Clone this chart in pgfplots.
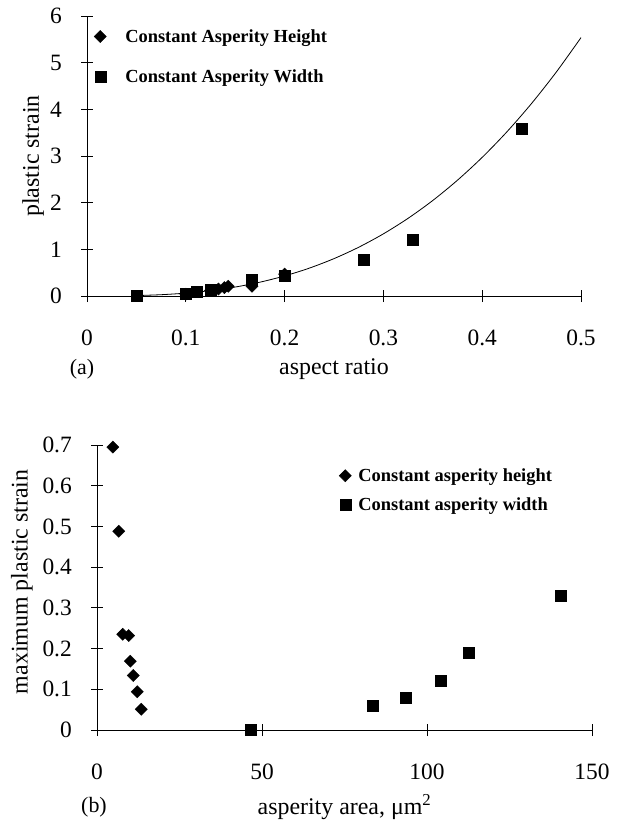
\documentclass[border=0pt]{standalone}
\usepackage{fontspec}
\setmainfont{Liberation Serif}
\usepackage{pgfplots}
\pgfplotsset{compat=1.18}
\pgfplotsset{
  common/.style={
    scale only axis,
    axis x line=bottom, axis y line=left,
    axis line style={-, line width=1bp, black},
    tick align=center,
    major tick length=12bp,
    every tick/.style={line width=0.9bp, black},
    clip=false,
    /pgf/number format/assume math mode=true,
    tick label style={font=\fontsize{23.5}{27}\selectfont},
    label style={font=\fontsize{24}{28}\selectfont},
    xticklabel style={anchor=center, inner sep=0pt, yshift=-36bp},
    yticklabel style={anchor=east, inner sep=0pt, xshift=-19bp},
    legend cell align=left,
    legend image code/.code={\draw[##1] plot coordinates {(0bp,0bp)};},
  },
  diam/.style={only marks, mark=square*, mark size=4.3bp, mark options={rotate=45, fill=black, draw=black}},
  sq/.style={only marks, mark=square*, mark size=5.5bp, mark options={fill=black, draw=black}},
}
\begin{document}
\begin{tikzpicture}
\path[use as bounding box] (0,0) rectangle (621bp,-821bp);
% ---------------- (a) ----------------
\begin{axis}[common,
  at={(87bp,-296bp)}, anchor=south west,
  width=494bp, height=280bp,
  xmin=0, xmax=0.5, ymin=0, ymax=6,
  xtick={0,0.1,0.2,0.3,0.4,0.5},
  xticklabels={0,0.1,0.2,0.3,0.4,0.5},
  ytick={0,1,2,3,4,5,6},
  yticklabels={0,1,2,3,4,5,6},
  xlabel={aspect ratio},
  xlabel style={at={(axis description cs:0.5,0)}, anchor=center, yshift=-73bp},
  ylabel={plastic strain},
  ylabel style={at={(axis description cs:-0.109,0.5)}, anchor=center},
  legend style={at={(axis description cs:0.014,0.96)}, anchor=north west,
    draw=none, fill=none, inner sep=0pt, column sep=17bp, row sep=22bp,
    nodes={inner sep=2bp},
    font=\bfseries\fontsize{18.5}{22}\selectfont},
]
\addplot[diam] coordinates {(0.1,0.04) (0.125,0.12) (0.133,0.15) (0.139,0.18) (0.143,0.21) (0.167,0.21) (0.2,0.47)};
\addlegendentry{Constant Asperity Height}
\addplot[sq] coordinates {(0.05,0.01) (0.1,0.06) (0.111,0.09) (0.125,0.13) (0.167,0.34) (0.2,0.43) (0.28,0.78) (0.33,1.2) (0.44,3.58)};
\addlegendentry{Constant Asperity Width}
\addplot[black, line width=0.8bp, smooth, forget plot] coordinates {
(0.05,0.009) (0.075,0.028) (0.1,0.062) (0.125,0.116) (0.15,0.192) (0.175,0.296)
(0.2,0.430) (0.225,0.597) (0.25,0.801) (0.275,1.045) (0.3,1.332) (0.325,1.665)
(0.35,2.047) (0.375,2.482) (0.4,2.971) (0.425,3.518) (0.45,4.127) (0.475,4.799) (0.5,5.537)};
\node[font=\fontsize{22}{26}\selectfont] at (axis cs:0,0) [xshift=-5bp, yshift=-73bp] {(a)};
\end{axis}
% ---------------- (b) ----------------
\begin{axis}[common,
  at={(97bp,-730bp)}, anchor=south west,
  width=495bp, height=285bp,
  xmin=0, xmax=150, ymin=0, ymax=0.7,
  xtick={0,50,100,150},
  xticklabels={0,50,100,150},
  ytick={0,0.1,0.2,0.3,0.4,0.5,0.6,0.7},
  yticklabels={0,0.1,0.2,0.3,0.4,0.5,0.6,0.7},
  xlabel={asperity area, μm\textsuperscript{2}},
  xlabel style={at={(axis description cs:0.5,0)}, anchor=center, yshift=-77bp},
  ylabel={maximum plastic strain},
  ylabel style={at={(axis description cs:-0.152,0.52)}, anchor=center},
  legend style={at={(axis description cs:0.489,0.925)}, anchor=north west,
    draw=none, fill=none, inner sep=0pt, column sep=5bp, row sep=11bp,
    nodes={inner sep=2bp},
    font=\bfseries\fontsize{18.5}{22}\selectfont},
]
\addplot[diam] coordinates {(4.8,0.695) (6.6,0.488) (7.8,0.235) (9.6,0.232) (10.1,0.169) (11.0,0.134) (12.2,0.094) (13.4,0.051)};
\addlegendentry{Constant asperity height}
\addplot[sq] coordinates {(46.6,0) (83.4,0.060) (93.6,0.080) (104.2,0.120) (112.5,0.191) (140.5,0.330)};
\addlegendentry{Constant asperity width}
\node[font=\fontsize{22}{26}\selectfont] at (axis cs:0,0) [xshift=-3bp, yshift=-77bp] {(b)};
\end{axis}
\end{tikzpicture}
\end{document}
